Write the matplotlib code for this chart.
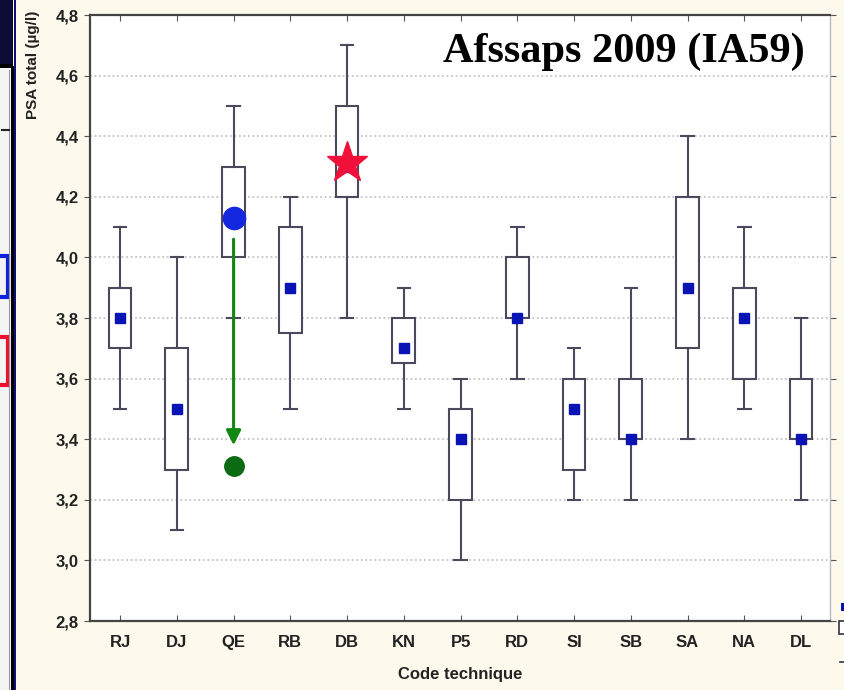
import matplotlib
matplotlib.use("Agg")
import matplotlib.pyplot as plt
from matplotlib.patches import Rectangle
from matplotlib.lines import Line2D

# ---- data -------------------------------------------------------------
codes = ["RJ", "DJ", "QE", "RB", "DB", "KN", "P5", "RD", "SI", "SB", "SA", "NA", "DL"]
minimum = [3.5, 3.1, 3.8, 3.5, 3.8, 3.5, 3.0, 3.6, 3.2, 3.2, 3.4, 3.5, 3.2]
q25 = [3.7, 3.3, 4.0, 3.75, 4.2, 3.65, 3.2, 3.8, 3.3, 3.4, 3.7, 3.6, 3.4]
median = [3.8, 3.5, 4.13, 3.9, 4.3, 3.7, 3.4, 3.8, 3.5, 3.4, 3.9, 3.8, 3.4]
q75 = [3.9, 3.7, 4.3, 4.1, 4.5, 3.8, 3.5, 4.0, 3.6, 3.6, 4.2, 3.9, 3.6]
maximum = [4.1, 4.0, 4.5, 4.2, 4.7, 3.9, 3.6, 4.1, 3.7, 3.9, 4.4, 4.1, 3.8]

# highlighted results
qe_before = 4.13      # QE, blue dot
qe_after = 3.31       # QE after correction, green dot
db_value = 4.31       # DB, red star

yticks = [2.8, 3.0, 3.2, 3.4, 3.6, 3.8, 4.0, 4.2, 4.4, 4.6, 4.8]
ytick_labels = ["2,8", "3,0", "3,2", "3,4", "3,6", "3,8", "4,0", "4,2", "4,4", "4,6", "4,8"]

# ---- figure -----------------------------------------------------------
W, H = 845, 690
BG = "#fdf9ec"
fig = plt.figure(figsize=(W / 100, H / 100), dpi=100, facecolor=BG)

narrow = ["Liberation Sans Narrow", "Liberation Sans", "DejaVu Sans"]


def px_rect(x0, y0, x1, y1, **kw):
    """Rectangle given in pixel coordinates (origin top-left)."""
    fig.patches.append(Rectangle((x0 / W, 1 - y1 / H), (x1 - x0) / W, (y1 - y0) / H,
                                 transform=fig.transFigure, **kw))


def px_line(x0, y0, x1, y1, **kw):
    fig.lines.append(Line2D([x0 / W, x1 / W], [1 - y0 / H, 1 - y1 / H],
                            transform=fig.transFigure, **kw))


# slide strip on the left edge
px_rect(0, 0, 13, 66, facecolor="#0b0b33", edgecolor="none")
px_rect(0, 66, 11, H, facecolor="#f4f4f4", edgecolor="none")
px_rect(0, 64, 13, 68, facecolor="#000000", edgecolor="none")
px_rect(11, 66, 14, H, facecolor="#000000", edgecolor="none")
px_rect(14, 0, 16, H, facecolor="#101070", edgecolor="none")
px_line(9.5, 70, 9.5, H, color="#9a9a9a", lw=0.8)
px_line(2, 130, 9, 130, color="#222222", lw=1.5)
px_rect(-4, 256, 8, 297, facecolor="none", edgecolor="#1020e0", lw=3)
px_rect(-4, 337, 8, 385, facecolor="none", edgecolor="#f01030", lw=3)

# partial legend on the right edge
px_rect(841, 603, 850, 611, facecolor="#0a10b0", edgecolor="none")
px_rect(839, 621, 850, 634, facecolor="white", edgecolor="#333344", lw=1.2)
px_line(840, 662, 845, 662, color="#333344", lw=1.2)

# ---- axes -------------------------------------------------------------
ax = fig.add_axes([90 / W, 1 - 621 / H, (830 - 90) / W, (621 - 15) / H])
ax.set_facecolor("white")
positions = list(range(len(codes)))

stats = [dict(whislo=lo, q1=a, med=m, q3=b, whishi=hi, fliers=[])
         for lo, a, m, b, hi in zip(minimum, q25, median, q75, maximum)]
edge = "#4a4a5c"
ax.bxp(stats, positions=positions, widths=0.4, capwidths=0.22, showfliers=False,
       patch_artist=True,
       boxprops=dict(facecolor="white", edgecolor=edge, linewidth=1.5),
       whiskerprops=dict(color=edge, linewidth=1.5),
       capprops=dict(color=edge, linewidth=1.5),
       medianprops=dict(linewidth=0), zorder=3)
ax.plot(positions, median, linestyle="none", marker="s", markersize=6.5,
        color="#0a14b4", zorder=4)

# highlighted results
iq = codes.index("QE")
idb = codes.index("DB")
ax.plot(iq, qe_before, "o", color="#1428e0", markersize=16, zorder=6)
ax.annotate("", xy=(iq, qe_after + 0.07), xytext=(iq, qe_before - 0.07),
            arrowprops=dict(arrowstyle="-|>", color="#118811", lw=2.2,
                            mutation_scale=22, shrinkA=0, shrinkB=0), zorder=6)
ax.plot(iq, qe_after, "o", color="#0b6b12", markersize=14, zorder=6)
ax.plot(idb, db_value, "*", color="#f0103a", markersize=31, zorder=6)

ax.set_xlim(-0.53, 12.51)
ax.set_ylim(2.8, 4.8)
ax.set_yticks(yticks)
ax.set_yticklabels(ytick_labels, fontsize=12, fontweight="bold", family=narrow,
                   color="#222222")
ax.set_xticks(positions)
ax.set_xticklabels(codes, fontsize=12, fontweight="bold", family=narrow,
                   color="#222222")
ax.tick_params(axis="x", direction="in", length=4, top=True, color="#555555", pad=10)
ax.tick_params(axis="y", direction="out", length=4, right=True, color="#555555", pad=4)
ax.tick_params(axis="y", which="both", labelright=False)
for s in ax.spines.values():
    s.set_color("#444444")
    s.set_linewidth(1.6)
ax.spines["right"].set_color("#bbbbbb")
ax.spines["right"].set_linewidth(1.0)

ax.grid(axis="y", linestyle=(0, (1, 1.5)), color="#c4c4c4", linewidth=1.3, zorder=0)
ax.set_axisbelow(True)

ax.text(0.966, 0.94, "Afssaps 2009 (IA59)", transform=ax.transAxes, ha="right",
        va="center", fontsize=30.5, fontweight="bold", family="Liberation Serif",
        color="black", zorder=7)

fig.text(460 / W, 1 - 675 / H, "Code technique", ha="center", va="center",
         fontsize=12, fontweight="bold", family=narrow, color="#222222")
fig.text(33 / W, 1 - 65 / H, "PSA total (\u00b5g/l)", ha="center", va="center",
         rotation=90, fontsize=11, fontweight="bold", family=narrow, color="#222222")

fig.savefig("out.png", dpi=100, facecolor=BG)
